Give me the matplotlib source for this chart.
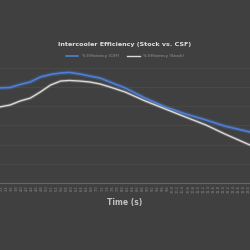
import matplotlib
matplotlib.use("Agg")
import matplotlib.pyplot as plt
import numpy as np

time_s = [3.15, 3.55, 3.95, 4.35, 4.75, 5.15, 5.55, 5.9, 6.3, 6.7, 7.1, 7.5,
          8.1, 8.9, 9.7, 10.5, 11.3, 12.05, 13.05]
eff_csf = [89.6, 89.8, 91.4, 92.7, 95.3, 96.6, 97.4, 97.7, 96.9, 95.8, 94.8, 92.7,
           89.6, 84.3, 79.7, 76.0, 72.9, 69.7, 66.6]
eff_stock = [79.7, 80.7, 82.8, 84.3, 87.5, 91.1, 93.2, 93.5, 93.2, 92.7, 91.7, 90.1,
             87.5, 82.8, 78.6, 74.4, 70.3, 65.6, 59.8]
tick_vals = [round(3.2 + 0.2 * i, 1) for i in range(50)]
tick_labels = [f"{v:.1f}" for v in tick_vals]

bg = "#404040"
fig = plt.figure(figsize=(2.5, 2.5), dpi=100, facecolor=bg)
ax = fig.add_axes([0, 0.268, 1, 0.46], facecolor=bg)

ax.plot(time_s, eff_csf, color="#4472C4", lw=3.2, alpha=0.3, solid_capstyle="round")
ax.plot(time_s, eff_csf, color="#4f7fd6", lw=1.2, label="% Efficiency (CSF)")
ax.plot(time_s, eff_stock, color="#bfbfbf", lw=2.4, alpha=0.25)
ax.plot(time_s, eff_stock, color="#d9d9d9", lw=1.0, label="% Efficiency (Stock)")

ax.set_xlim(3.15, 13.05)
ax.set_ylim(40, 100)
ax.set_yticks(np.arange(40, 101, 10))
ax.yaxis.grid(True, color="#4a4a4a", lw=0.6)
ax.set_axisbelow(True)
ax.tick_params(axis="y", left=False, labelleft=False)
ax.set_xticks(tick_vals)
ax.set_xticklabels(tick_labels, rotation=90, fontsize=2.5, color="#8f8f8f")
ax.tick_params(axis="x", length=0, pad=1.5)
for s in ["top", "left", "right"]:
    ax.spines[s].set_visible(False)
ax.spines["bottom"].set_color("#666666")
ax.spines["bottom"].set_linewidth(0.8)

fig.text(0.5, 0.192, "Time (s)", ha="center", va="center", fontsize=5.5,
         fontweight="bold", color="#bfbfbf")
fig.text(0.5, 0.823, "Intercooler Efficiency (Stock vs. CSF)", ha="center", va="center",
         fontsize=4.6, fontweight="bold", color="#e0e0e0")
leg = fig.legend(loc="center", bbox_to_anchor=(0.5, 0.775), ncol=2, frameon=False,
                 fontsize=3, labelcolor="#9a9a9a", handlelength=3, columnspacing=2)

fig.savefig("out.png", dpi=100, facecolor=bg)
